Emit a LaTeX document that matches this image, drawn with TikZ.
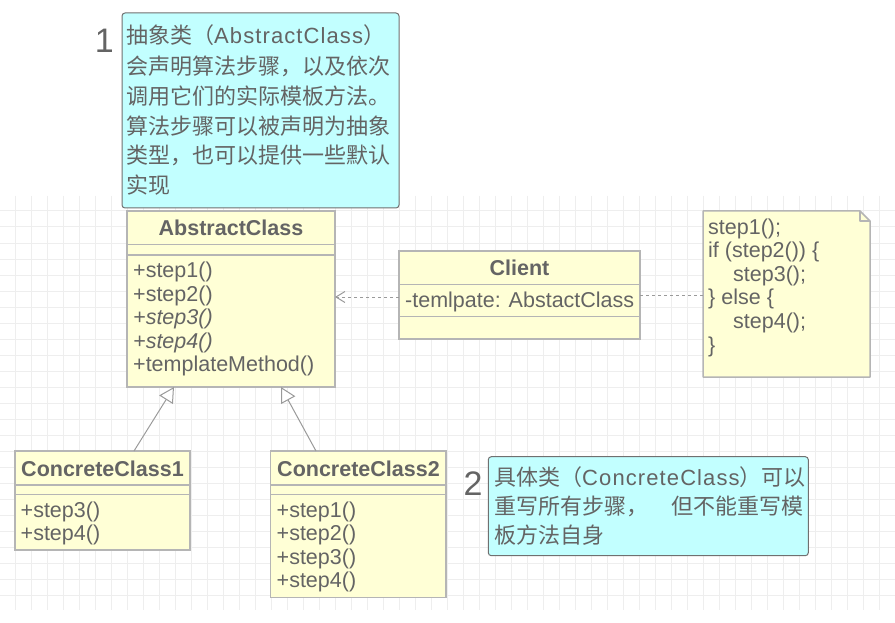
\documentclass[tikz,border=0pt]{standalone}
\usepackage{fontspec}
\setmainfont{Liberation Sans}
\newfontfamily\cjk{Noto Sans CJK SC}
\newfontfamily\latn[LetterSpace=5]{Liberation Sans}
\usetikzlibrary{arrows.meta,calc}
\definecolor{gridc}{HTML}{EEEEEE}
\definecolor{boxfill}{HTML}{FFFFD6}
\definecolor{boxline}{HTML}{B5B5B5}
\definecolor{notefill}{HTML}{C2FFFF}
\definecolor{noteline}{HTML}{707070}
\definecolor{tc}{HTML}{646464}
\definecolor{linec}{HTML}{9A9A9A}
\tikzset{
  umlbox/.style={draw=boxline, fill=boxfill, line width=1.5pt, anchor=north west, inner sep=0, outer sep=0},
  notebox/.style={draw=noteline, fill=notefill, line width=1pt, rounded corners=3pt, anchor=north west, inner sep=0, outer sep=0},
  sepline/.style={draw=boxline, line width=1.5pt},
  mtxt/.style={anchor=base west, inner sep=0, text=tc, font=\fontsize{21.5}{24}\selectfont},
  btxt/.style={anchor=base, inner sep=0, text=tc, font=\fontsize{21.5}{24}\selectfont\bfseries},
  ntxt/.style={anchor=base west, inner sep=0, text=tc, text height=18pt, text depth=5pt, font=\fontsize{22}{29}\selectfont\cjk},
  numtxt/.style={anchor=base west, inner sep=0, text=tc, font=\fontsize{34}{40}\selectfont},
  dep/.style={draw=linec, line width=1pt, dash pattern=on 3pt off 3pt},
  inherit/.style={draw=linec, line width=1pt, -{Triangle[open, length=15pt, width=16pt, fill=white]}},
}
\begin{document}
\begin{tikzpicture}[x=1pt, y=-1pt]
\useasboundingbox (0,0) rectangle (895,623);
\fill[white] (0,0) rectangle (895,623);
% grid
\foreach \i in {0,...,54} \draw[gridc, line width=1pt] ({15+16*\i},196) -- ({15+16*\i},610);
\foreach \j in {0,...,24} \draw[gridc, line width=1pt] (0,{211+16*\j}) -- (895,{211+16*\j});

% note 1
\node[notebox, minimum width=277, minimum height=195] (n1) at (122,13) {};
\node[numtxt] (num1) at (94.6,52.7) {1};
\node[ntxt] (n1l1) at (126,44) {抽象类（{\latn AbstractClass}）};
\node[ntxt] (n1l2) at (126,75) {会声明算法步骤，以及依次};
\node[ntxt] (n1l3) at (126,104.6) {调用它们的实际模板方法。};
\node[ntxt] (n1l4) at (126,134.2) {算法步骤可以被声明为抽象};
\node[ntxt] (n1l5) at (126,163.8) {类型，也可以提供一些默认};
\node[ntxt] (n1l6) at (126,193.4) {实现};

% AbstractClass
\node[umlbox, minimum width=208, minimum height=176] (ac) at (127,211) {};
\draw[sepline] (127,244.3) -- (335,244.3);
\draw[sepline] (127,255) -- (335,255);
\node[btxt] (actitle) at (231,235.5) {AbstractClass};
\node[mtxt] (acm1) at (133,277.5) {+step1()};
\node[mtxt] (acm2) at (133,301) {+step2()};
\node[mtxt] (acm3) at (133,324.5) {\itshape +step3()};
\node[mtxt] (acm4) at (133,348) {\itshape +step4()};
\node[mtxt] (acm5) at (133,371.5) {+templateMethod()};

% Client
\node[umlbox, minimum width=241, minimum height=88] (cl) at (399,251) {};
\draw[sepline] (399,284.3) -- (640,284.3);
\draw[sepline] (399,316.7) -- (640,316.7);
\node[btxt] (cltitle) at (519.5,275.3) {Client};
\node[mtxt] (clattr) at (405,307) {-temlpate: AbstactClass};

% code note
\node[anchor=north west, inner sep=0, outer sep=0, minimum width=167, minimum height=166] (code) at (703,211) {};
\draw[draw=boxline, fill=boxfill, line width=1.5pt, line join=round]
  (code.north west) -- ($(code.north east)+(-10,0)$) -- ($(code.north east)+(0,10)$) -- (code.south east) -- (code.south west) -- cycle;
\draw[draw=boxline, line width=1.5pt, line join=round]
  ($(code.north east)+(-10,0)$) -- ($(code.north east)+(-10,10)$) -- ($(code.north east)+(0,10)$);
\node[mtxt] (c1l) at (708,234) {step1();};
\node[mtxt] (c2l) at (708,257.6) {if (step2()) \{};
\node[mtxt] (c3l) at (733,281.2) {step3();};
\node[mtxt] (c4l) at (708,304.8) {\} else \{};
\node[mtxt] (c5l) at (733,328.4) {step4();};
\node[mtxt] (c6l) at (708,352) {\}};

% ConcreteClass1
\node[umlbox, minimum width=175, minimum height=99] (cc1) at (15,451) {};
\draw[sepline] (15,485) -- (190,485);
\draw[sepline] (15,494.3) -- (190,494.3);
\node[btxt] (cc1title) at (102.5,476) {ConcreteClass1};
\node[mtxt] (cc1m1) at (20.5,517.3) {+step3()};
\node[mtxt] (cc1m2) at (20.5,540.8) {+step4()};

% ConcreteClass2
\node[umlbox, minimum width=175.5, minimum height=146.5] (cc2) at (270.7,451) {};
\draw[sepline] (270.7,485) -- (446.2,485);
\draw[sepline] (270.7,494.3) -- (446.2,494.3);
\node[btxt] (cc2title) at (358.5,476) {ConcreteClass2};
\node[mtxt] (cc2m1) at (276.5,517.3) {+step1()};
\node[mtxt] (cc2m2) at (276.5,540.8) {+step2()};
\node[mtxt] (cc2m3) at (276.5,564.3) {+step3()};
\node[mtxt] (cc2m4) at (276.5,587.8) {+step4()};

% note 2
\node[notebox, minimum width=320, minimum height=99] (n2) at (488.3,456.7) {};
\node[numtxt] (num2) at (463.3,495.7) {2};
\node[ntxt] (n2l1) at (494,485) {具体类（{\latn ConcreteClass}）可以};
\node[ntxt] (n2l2) at (494,514.2) {重写所有步骤，\hspace{23pt}但不能重写模};
\node[ntxt] (n2l3) at (494,543.4) {板方法自身};

% connectors
\draw[dep, -{Straight Barb[length=9pt, width=11pt, line width=1pt]}] ($(cl.west)+(0,2)$) -- ($(cl.west -| ac.east)+(0,2)$);
\draw[dep] (cl.east) -- (cl.east -| code.west);
\draw[inherit] ($(cc1.north west)+(119,0)$) -- ($(ac.south west)+(47,0)$);
\draw[inherit] ($(cc2.north west)+(45.3,0)$) -- ($(ac.south west)+(154,0)$);
\end{tikzpicture}
\end{document}
